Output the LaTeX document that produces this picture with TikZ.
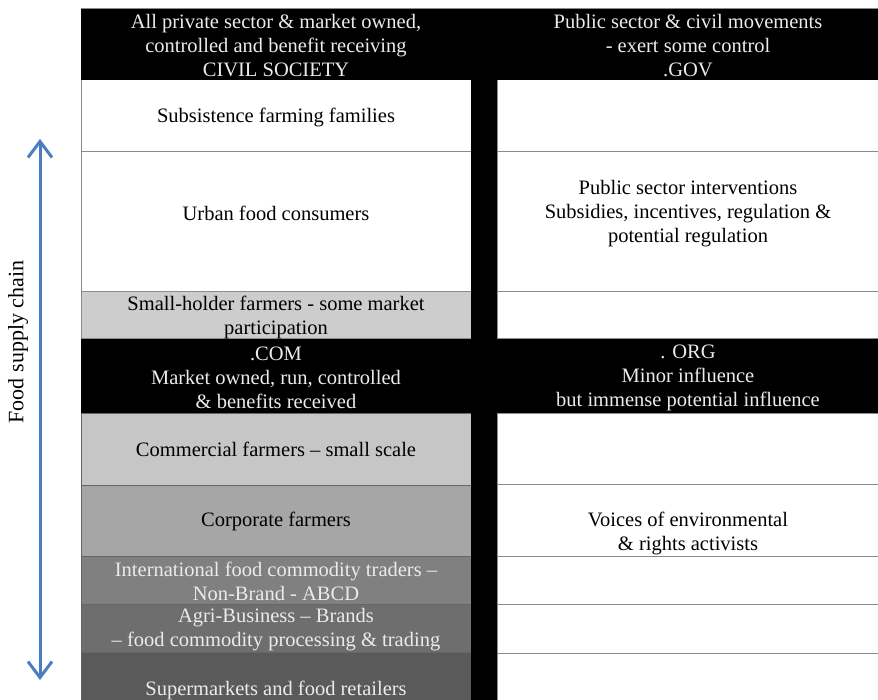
\documentclass[tikz,border=0pt]{standalone}
\usepackage{fontspec}
\setmainfont{Liberation Serif}
\usetikzlibrary{arrows.meta}
\definecolor{lgA}{HTML}{CDCDCD}
\definecolor{lgB}{HTML}{C6C6C6}
\definecolor{mgA}{HTML}{A6A6A6}
\definecolor{dgA}{HTML}{808080}
\definecolor{dgB}{HTML}{6E6E6E}
\definecolor{dgC}{HTML}{5A5A5A}
\definecolor{lineg}{HTML}{8A8A8A}
\definecolor{arrowblue}{HTML}{4A7EBF}
\begin{document}
\begin{tikzpicture}[x=1pt,y=-1pt,
  cellbox/.style={draw=lineg, line width=1pt, anchor=north west, inner sep=0pt, outer sep=0pt},
  blackbox/.style={fill=black, draw=none, anchor=north west, inner sep=0pt, outer sep=0pt},
  txt/.style={align=center, font=\fontsize{20.5}{24}\selectfont, inner sep=0pt},
  wtxtg/.style={txt, text=white!92!black}]
\useasboundingbox (0,0) rectangle (878,700);
\fill[white] (0,0) rectangle (878,700);
% left column cells
\node[cellbox, fill=white, minimum width=390pt, minimum height=72pt] (l1) at (81,80) {};
\node[cellbox, fill=white, minimum width=390pt, minimum height=140pt] (l2) at (81,152) {};
\node[cellbox, fill=lgA, minimum width=390pt, minimum height=47pt] (l3) at (81,292) {};
\node[cellbox, fill=lgB, draw=black!60, minimum width=390pt, minimum height=72pt] (l4) at (81,413) {};
\node[cellbox, fill=mgA, draw=black!60, minimum width=390pt, minimum height=71pt] (l5) at (81,485) {};
\node[cellbox, fill=dgA, draw=black!60, minimum width=390pt, minimum height=48pt] (l6) at (81,556) {};
\node[cellbox, fill=dgB, draw=black!60, minimum width=390pt, minimum height=48pt] (l7) at (81,604) {};
\node[cellbox, fill=dgC, draw=black!60, minimum width=390pt, minimum height=60pt] (l8) at (81,652) {};
% right column cells
\node[cellbox, fill=white, minimum width=390pt, minimum height=72pt] (r1) at (497,80) {};
\node[cellbox, fill=white, minimum width=390pt, minimum height=140pt] (r2) at (497,152) {};
\node[cellbox, fill=white, minimum width=390pt, minimum height=47pt] (r3) at (497,292) {};
\node[cellbox, fill=white, minimum width=390pt, minimum height=71pt] (r4) at (497,413) {};
\node[cellbox, fill=white, minimum width=390pt, minimum height=72pt] (r5) at (497,484) {};
\node[cellbox, fill=white, minimum width=390pt, minimum height=48pt] (r6) at (497,556) {};
\node[cellbox, fill=white, minimum width=390pt, minimum height=49pt] (r7) at (497,604) {};
\node[cellbox, fill=white, minimum width=390pt, minimum height=60pt] (r8) at (497,653) {};
% black bands
\node[blackbox, minimum width=797pt, minimum height=72pt] (hdr) at (81,8) {};
\node[blackbox, minimum width=797pt, minimum height=74pt] (mid) at (81,339) {};
\node[blackbox, minimum width=26pt, minimum height=640pt] (gap) at (471,80) {};
\draw[lineg, line width=0.8pt] (hdr.north west) -- (hdr.north east);
% header texts
\node[wtxtg] (h1) at (276,45.5) {All private sector \& market owned,\\controlled and benefit receiving\\CIVIL SOCIETY};
\node[wtxtg] (h2) at (688,45.5) {Public sector \& civil movements\\- exert some control\\.GOV};
\node[wtxtg] (m1) at (276,377.5) {.COM\\Market owned, run, controlled\\\& benefits received};
\node[wtxtg] (m2) at (688,377.5) {. ORG\\Minor influence\\but immense potential influence};
% left texts
\node[txt] (t1) at (276,117.5) {Subsistence farming families};
\node[txt] (t2) at (276,213.5) {Urban food consumers};
\node[txt] (t3) at (276,317.5) {Small-holder farmers - some market\\participation};
\node[txt] (t4) at (276,449.5) {Commercial farmers -- small scale};
\node[txt] (t5) at (276,521.5) {Corporate farmers};
\node[wtxtg] (t6) at (276,581.5) {International food commodity traders --\\Non-Brand - ABCD};
\node[wtxtg] (t7) at (276,629.5) {Agri-Business -- Brands\\-- food commodity processing \& trading};
\node[wtxtg] (t8) at (276,690.5) {Supermarkets and food retailers};
% right texts
\node[txt] (u2) at (688,213.5) {Public sector interventions\\Subsidies, incentives, regulation \&\\potential regulation};
\node[txt] (u5) at (688,533.5) {Voices of environmental\\\& rights activists};
% arrow
\coordinate (atop) at (40,139);
\coordinate (abot) at (40,680);
\draw[arrowblue, line width=3pt, {Straight Barb[length=16pt,width=24pt]}-{Straight Barb[length=16pt,width=24pt]}] (atop) -- (abot);
\node[txt, font=\fontsize{22}{26}\selectfont, rotate=90] (lab) at (18,342) {Food supply chain};
\end{tikzpicture}
\end{document}
